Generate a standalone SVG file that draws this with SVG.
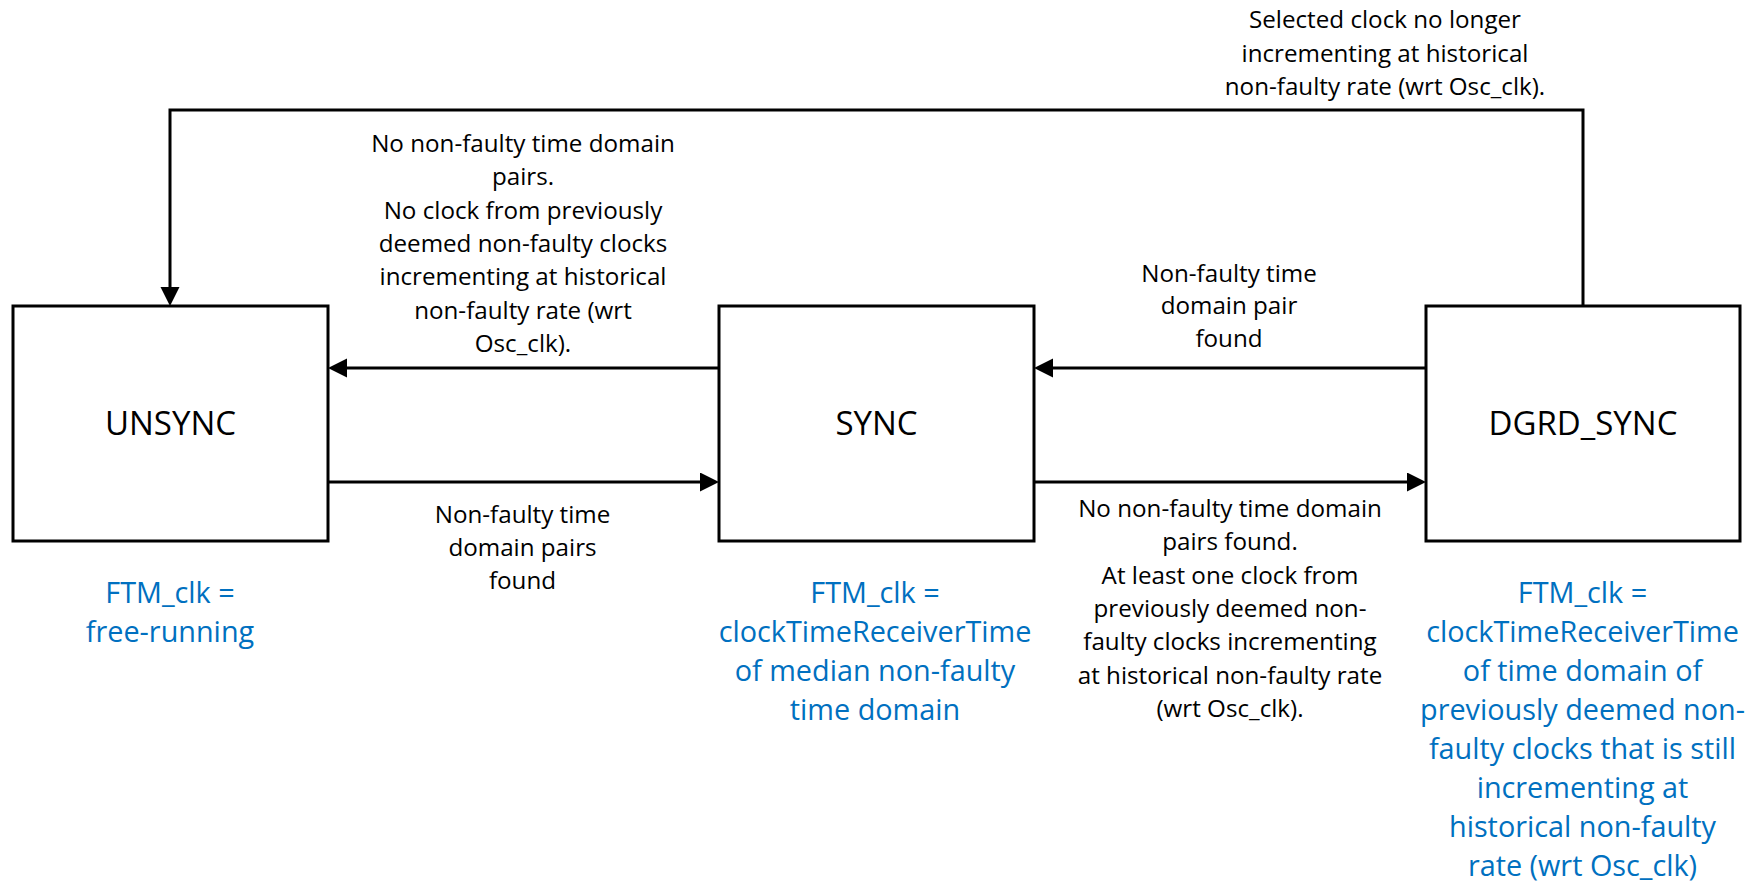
<svg xmlns="http://www.w3.org/2000/svg" width="1757" height="888" viewBox="0 0 1757 888">
  <style>
    .state { fill: #ffffff; stroke: #000000; stroke-width: 3; }
    .state-name { font-family: "Open Sans", "Liberation Sans", sans-serif; font-size: 33px; fill: #000000; text-anchor: middle; }
    .cond { font-family: "Open Sans", "Liberation Sans", sans-serif; font-size: 24.2px; fill: #000000; text-anchor: middle; }
    .clk { font-family: "Open Sans", "Liberation Sans", sans-serif; font-size: 28.8px; fill: #0070C0; text-anchor: middle; }
    .edge { fill: none; stroke: #000000; stroke-width: 3; marker-end: url(#arrow); }
  </style>
  <defs>
    <marker id="arrow" markerUnits="userSpaceOnUse" markerWidth="20" markerHeight="20" refX="14" refY="9.5" orient="auto">
      <path d="M0,0 L19,9.5 L0,19 Z" fill="#000000"/>
    </marker>
  </defs>
  <rect width="1757" height="888" fill="#ffffff"/>

  <!-- transitions -->
  <g id="connectors">
    <path class="edge" d="M1583,306 V110 H170 V301"/>
    <path class="edge" d="M719,368 H333"/>
    <path class="edge" d="M328,482 H714"/>
    <path class="edge" d="M1426,368 H1039"/>
    <path class="edge" d="M1034,482 H1421"/>
  </g>

  <!-- transition conditions -->
  <g id="label-dgrd-unsync">
    <text class="cond" x="1385" y="28">Selected clock no longer</text>
    <text class="cond" x="1385" y="61.5">incrementing at historical</text>
    <text class="cond" x="1385" y="95">non-faulty rate (wrt Osc_clk).</text>
  </g>
  <g id="label-sync-unsync">
    <text class="cond" x="523" y="152">No non-faulty time domain</text>
    <text class="cond" x="523" y="185">pairs.</text>
    <text class="cond" x="523" y="218.5">No clock from previously</text>
    <text class="cond" x="523" y="252">deemed non-faulty clocks</text>
    <text class="cond" x="523" y="285">incrementing at historical</text>
    <text class="cond" x="523" y="318.5">non-faulty rate (wrt</text>
    <text class="cond" x="523" y="352">Osc_clk).</text>
  </g>
  <g id="label-unsync-sync">
    <text class="cond" x="522.5" y="523">Non-faulty time</text>
    <text class="cond" x="522.5" y="556">domain pairs</text>
    <text class="cond" x="522.5" y="589">found</text>
  </g>
  <g id="label-dgrd-sync">
    <text class="cond" x="1229" y="281.5">Non-faulty time</text>
    <text class="cond" x="1229" y="314">domain pair</text>
    <text class="cond" x="1229" y="347">found</text>
  </g>
  <g id="label-sync-dgrd">
    <text class="cond" x="1230" y="517">No non-faulty time domain</text>
    <text class="cond" x="1230" y="550">pairs found.</text>
    <text class="cond" x="1230" y="583.5">At least one clock from</text>
    <text class="cond" x="1230" y="617">previously deemed non-</text>
    <text class="cond" x="1230" y="650">faulty clocks incrementing</text>
    <text class="cond" x="1230" y="683.5">at historical non-faulty rate</text>
    <text class="cond" x="1230" y="717">(wrt Osc_clk).</text>
  </g>

  <!-- states -->
  <g id="unsync">
    <rect class="state" x="13" y="306" width="315" height="235"/>
    <text class="state-name" x="170.5" y="435">UNSYNC</text>
    <text class="clk" x="170" y="603">FTM_clk =</text>
    <text class="clk" x="170" y="641.5">free-running</text>
  </g>
  <g id="sync">
    <rect class="state" x="719" y="306" width="315" height="235"/>
    <text class="state-name" x="876.5" y="435">SYNC</text>
    <text class="clk" x="875" y="603">FTM_clk =</text>
    <text class="clk" x="875" y="642">clockTimeReceiverTime</text>
    <text class="clk" x="875" y="681">of median non-faulty</text>
    <text class="clk" x="875" y="720">time domain</text>
  </g>
  <g id="dgrd-sync">
    <rect class="state" x="1426" y="306" width="314" height="235"/>
    <text class="state-name" x="1583" y="435">DGRD_SYNC</text>
    <text class="clk" x="1582.5" y="603">FTM_clk =</text>
    <text class="clk" x="1582.5" y="642">clockTimeReceiverTime</text>
    <text class="clk" x="1582.5" y="681">of time domain of</text>
    <text class="clk" x="1582.5" y="720">previously deemed non-</text>
    <text class="clk" x="1582.5" y="759">faulty clocks that is still</text>
    <text class="clk" x="1582.5" y="798">incrementing at</text>
    <text class="clk" x="1582.5" y="837">historical non-faulty</text>
    <text class="clk" x="1582.5" y="876">rate (wrt Osc_clk)</text>
  </g>
</svg>
